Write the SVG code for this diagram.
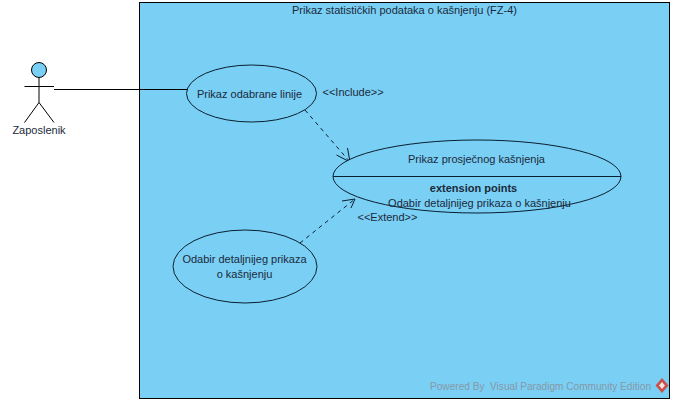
<svg xmlns="http://www.w3.org/2000/svg" width="674" height="403" viewBox="0 0 674 403">
<style>
text{font-family:"Liberation Sans",Arial,sans-serif;font-size:11px;fill:#1a2a3a}
.m{text-anchor:middle}
.s{fill:#7acff5;stroke:#000;stroke-width:1}
.l{fill:none;stroke:#000;stroke-width:1}
.h{fill:none;stroke:#0a2030;stroke-width:1}
.uc{fill:#7acff5;stroke:#0a2030;stroke-width:1}
.d{fill:none;stroke:#0a2030;stroke-width:1;stroke-dasharray:4 4}
.w{fill:#8798a6;font-size:11px;white-space:pre}
</style>
<rect width="674" height="403" fill="#fff"/>
<g id="system">
<rect class="s" x="139.500" y="2.500" width="530" height="396"/>
<text class="m" x="404.500" y="14">Prikaz statističkih podataka o kašnjenju (FZ-4)</text>
</g>
<g id="connectors">
<path class="l" d="M54 89.500H187"/>
<path class="d" d="M305 110L350 162"/>
<path class="h" d="M336.500 155L350 162L347.500 148"/>
<path class="d" d="M300 243L355 199"/>
<path class="h" d="M342 201L355 199L351 208"/>
<text x="322.500" y="95.500">&lt;&lt;Include&gt;&gt;</text>
<text x="357.500" y="221">&lt;&lt;Extend&gt;&gt;</text>
</g>
<g id="actor">
<circle class="s" cx="39" cy="70" r="7.500"/>
<path class="l" d="M39 77.500V102.500M24.500 86.500H54M39 102.500L24.500 122.500M39 102.500L54 122.500"/>
<text class="m" x="39" y="134">Zaposlenik</text>
</g>
<g id="uc-linija">
<ellipse class="uc" cx="251.500" cy="93.500" rx="65" ry="28.500"/>
<text class="m" x="249.500" y="97.500">Prikaz odabrane linije</text>
</g>
<g id="uc-prosjek">
<ellipse class="uc" cx="477" cy="176.500" rx="144" ry="36.500"/>
<path class="h" d="M333 176.500H621"/>
<text class="m" x="476.500" y="163">Prikaz prosječnog kašnjenja</text>
<text class="m" x="473.500" y="192" font-weight="bold">extension points</text>
<text class="m" x="479.500" y="207">Odabir detaljnijeg prikaza o kašnjenju</text>
</g>
<g id="uc-detalji">
<ellipse class="uc" cx="245" cy="266.500" rx="72" ry="36.500"/>
<text class="m" x="244.500" y="263">Odabir detaljnijeg prikaza</text>
<text class="m" x="244.500" y="278">o kašnjenju</text>
</g>
<g id="watermark">
<text class="w" x="430" y="389.500" textLength="221" lengthAdjust="spacingAndGlyphs">Powered By  Visual Paradigm Community Edition</text>
<path d="M662 378L668.500 385.500L662 393L655.500 385.500Z" fill="#c9504a"/>
<path d="M662 382L665 385.500L662 389L659 385.500Z" fill="#f3e3dc"/>
</g>
</svg>
